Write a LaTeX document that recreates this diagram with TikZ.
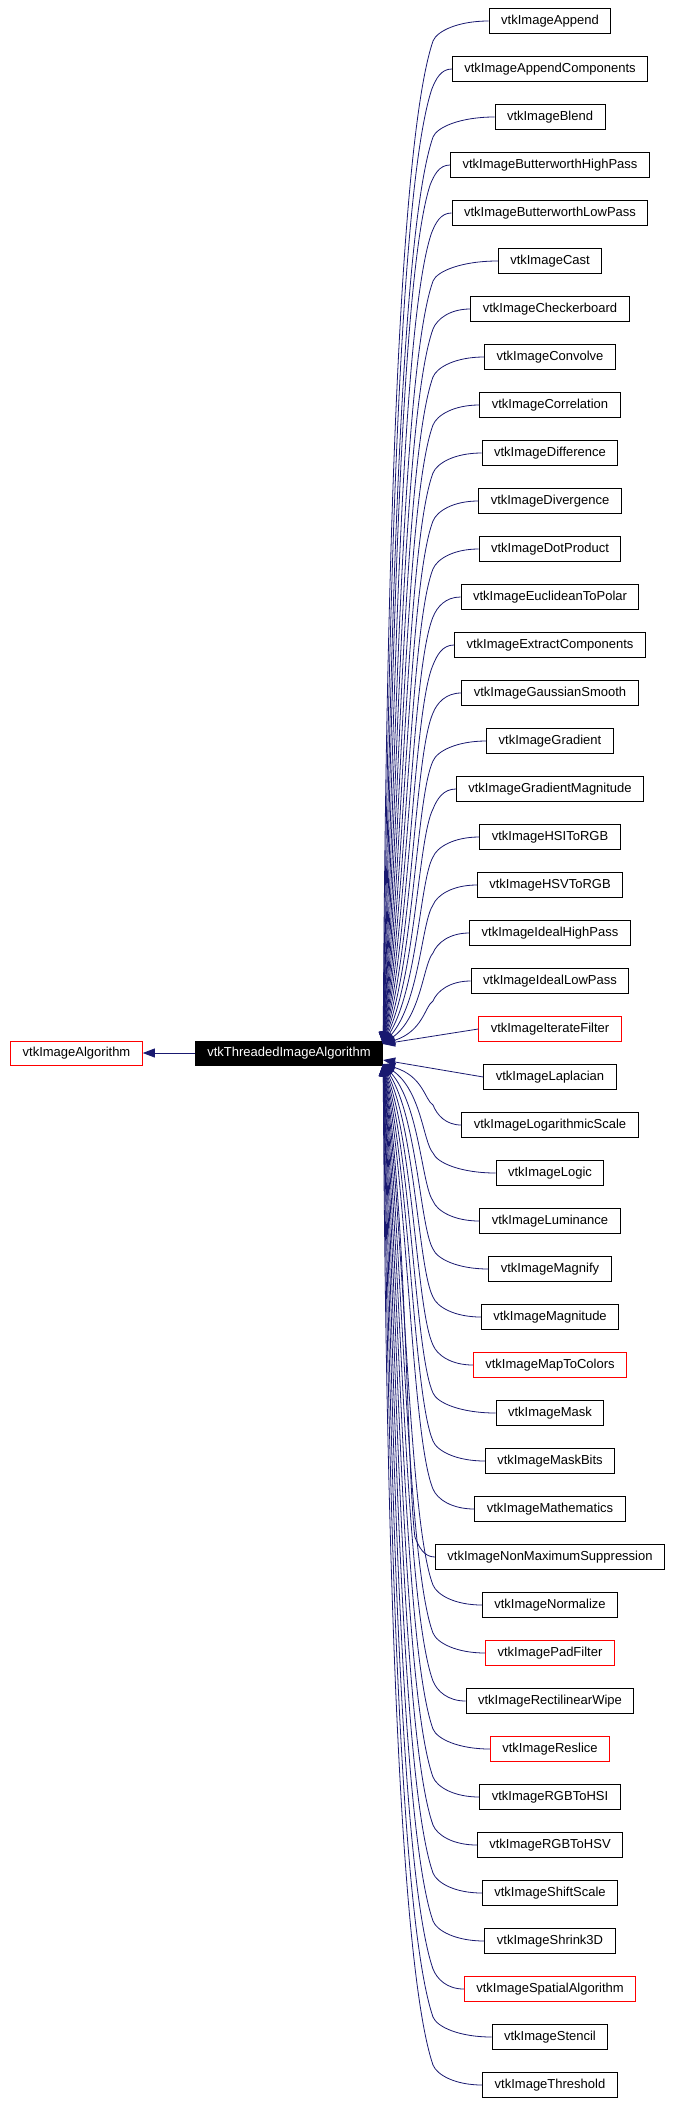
\documentclass[tikz,border=0pt]{standalone}
\usepackage{fontspec}
\setmainfont{Liberation Sans}
\usetikzlibrary{arrows.meta}
\definecolor{edgeblue}{RGB}{25,25,112}
\tikzset{
  cls/.style={draw=black, line width=1pt, minimum height=25pt, inner xsep=12pt, inner ysep=0pt,
    font=\fontsize{13}{15}\selectfont, text height=9.5pt, text depth=2.5pt},
  edge/.style={edgeblue, line width=0.8pt, -{Triangle[length=12pt,width=9pt]}},
}
\begin{document}
\begin{tikzpicture}[x=1pt,y=-1pt]
  \useasboundingbox (0,0) rectangle (674,2103);
  \node[cls, draw=red, minimum height=24pt] (alg) at (76.5,1053) {vtkImageAlgorithm};
  \node[cls, fill=black, text=white, minimum height=24pt] (main) at (289,1053) {vtkThreadedImageAlgorithm};
  \draw[edge] (main) -- (alg);
  \foreach \name/\col [count=\i from 0] in {Append/black, AppendComponents/black, Blend/black,
      ButterworthHighPass/black, ButterworthLowPass/black, Cast/black, Checkerboard/black,
      Convolve/black, Correlation/black, Difference/black, Divergence/black, DotProduct/black,
      EuclideanToPolar/black, ExtractComponents/black, GaussianSmooth/black, Gradient/black,
      GradientMagnitude/black, HSIToRGB/black, HSVToRGB/black, IdealHighPass/black,
      IdealLowPass/black, IterateFilter/red, Laplacian/black, LogarithmicScale/black,
      Logic/black, Luminance/black, Magnify/black, Magnitude/black, MapToColors/red,
      Mask/black, MaskBits/black, Mathematics/black, NonMaximumSuppression/black,
      Normalize/black, PadFilter/red, RectilinearWipe/black, Reslice/red, RGBToHSI/black,
      RGBToHSV/black, ShiftScale/black, Shrink3D/black, SpatialAlgorithm/red,
      Stencil/black, Threshold/black}
    \node[cls, draw=\col] (n\i) at (550,21+48*\i) {vtkImage\name};
  \draw[edge] (n21.west) -- ([yshift=9pt]main.east);
  \draw[edge] (n22.west) -- ([yshift=-7pt]main.east);
  \foreach \i in {0,...,20,23,24,...,43}{
    \path (n\i.west); \pgfgetlastxy{\xw}{\yw}
    \pgfmathsetmacro\xw{\xw}
    \pgfmathsetmacro\yc{21+48*\i}
    \pgfmathsetmacro\bx{min(433,\xw-20)}
    \pgfmathsetmacro\xa{\xw-0.55*(\xw-\bx)}
    \ifnum\i<21
      \pgfmathsetmacro\by{\yc+20}
      \pgfmathsetmacro\L{1044-\by}
      \pgfmathsetmacro\xv{385+40*(1-\L/1003)}
      \pgfmathsetmacro\ca{\xv+0.15*(\bx-\xv)}
      \pgfmathsetmacro\cb{\by+0.12*\L}
      \pgfmathsetmacro\cc{1044-0.3*\L}
      \draw[edge] (n\i.west) .. controls (\xa,\yc) and (\bx+4,\yc+10) .. (\bx,\by)
        .. controls (\ca,\cb) and (\xv,\cc) .. ([yshift=9pt]main.east);
    \else
      \pgfmathsetmacro\by{\yc-20}
      \pgfmathsetmacro\L{\by-1064}
      \pgfmathsetmacro\xv{385+40*(1-\L/1001)}
      \pgfmathsetmacro\ca{\xv+0.15*(\bx-\xv)}
      \pgfmathsetmacro\cb{\by-0.12*\L}
      \pgfmathsetmacro\cc{1064+0.3*\L}
      \draw[edge] (n\i.west) .. controls (\xa,\yc) and (\bx+4,\yc-10) .. (\bx,\by)
        .. controls (\ca,\cb) and (\xv,\cc) .. ([yshift=-11pt]main.east);
    \fi
  }
\end{tikzpicture}
\end{document}
